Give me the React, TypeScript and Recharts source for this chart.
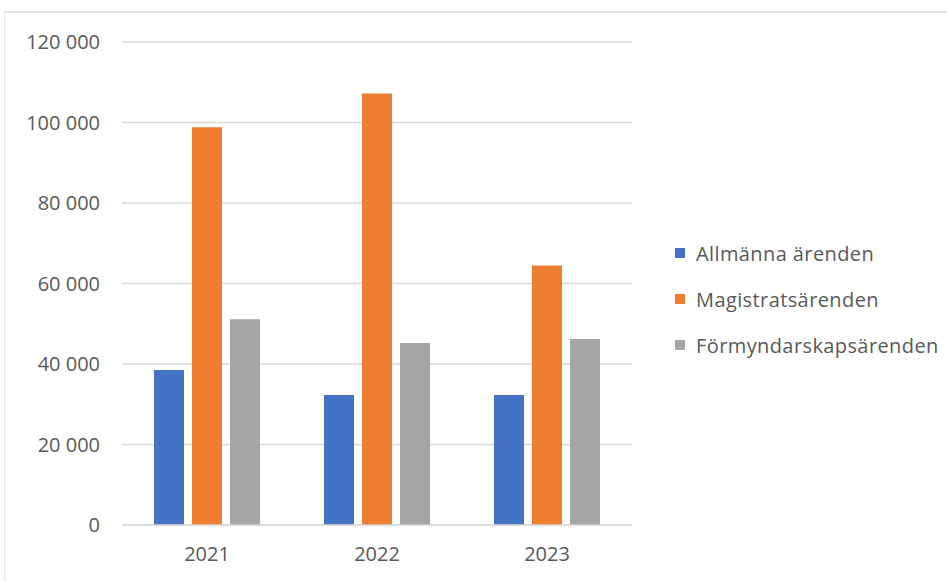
import React from "react";
import { BarChart, Bar, XAxis, YAxis, CartesianGrid } from "recharts";

const categories = ["2021", "2022", "2023"];
const allmanna = [38500, 32300, 32300];
const magistrats = [98800, 107200, 64500];
const formyndarskaps = [51100, 45200, 46200];
const yTicks = [0, 20000, 40000, 60000, 80000, 100000, 120000];
const seriesNames = ["Allmänna ärenden", "Magistratsärenden", "Förmyndarskapsärenden"];
const seriesColors = ["#4472C4", "#ED7D31", "#A5A5A5"];

const data = categories.map((c, i) => ({
  name: c,
  a: allmanna[i],
  m: magistrats[i],
  f: formyndarskaps[i],
}));

const fmt = (v: number) => {
  const s = String(v);
  return s.replace(/\B(?=(\d{3})+(?!\d))/g, " ");
};

const font = "'Open Sans', sans-serif";

export default function App() {
  return (
    <div style={{ position: "absolute", left: 0, top: 0, width: 947, height: 581, background: "#fff", fontFamily: font }}>
      <div
        style={{
          position: "absolute",
          left: 4,
          top: 11,
          width: 943,
          height: 570,
          borderTop: "2px solid #e3e3e3",
          borderLeft: "1px solid #e8e8e8",
          boxSizing: "border-box",
        }}
      />
      <div style={{ position: "absolute", left: 0, top: 0 }}>
        <BarChart
          width={947}
          height={581}
          data={data}
          margin={{ top: 42, right: 315, bottom: 0, left: 0 }}
          barSize={30}
          barGap={8}
        >
          <CartesianGrid vertical={false} stroke="#d9d9d9" strokeWidth={1.5} />
          <XAxis
            dataKey="name"
            height={56}
            tickSize={0}
            tickMargin={22}
            axisLine={{ stroke: "#d9d9d9", strokeWidth: 1.5 }}
            tick={{ fill: "#595959", fontSize: 20, fontFamily: font }}
          />
          <YAxis
            width={122}
            domain={[0, 120000]}
            ticks={yTicks}
            tickFormatter={fmt}
            tickSize={0}
            tickMargin={22}
            axisLine={false}
            tick={{ fill: "#595959", fontSize: 20, fontFamily: font }}
          />
          <Bar dataKey="a" name={seriesNames[0]} fill={seriesColors[0]} isAnimationActive={false} />
          <Bar dataKey="m" name={seriesNames[1]} fill={seriesColors[1]} isAnimationActive={false} />
          <Bar dataKey="f" name={seriesNames[2]} fill={seriesColors[2]} isAnimationActive={false} />
        </BarChart>
      </div>
      <div style={{ position: "absolute", left: 675, top: 230 }}>
        {seriesNames.map((n, i) => (
          <div key={n} style={{ display: "flex", alignItems: "center", height: 46 }}>
            <div style={{ width: 10, height: 10, background: seriesColors[i], marginRight: 11 }} />
            <span style={{ color: "#595959", fontSize: 20, letterSpacing: 0.4, whiteSpace: "nowrap" }}>{n}</span>
          </div>
        ))}
      </div>
    </div>
  );
}
